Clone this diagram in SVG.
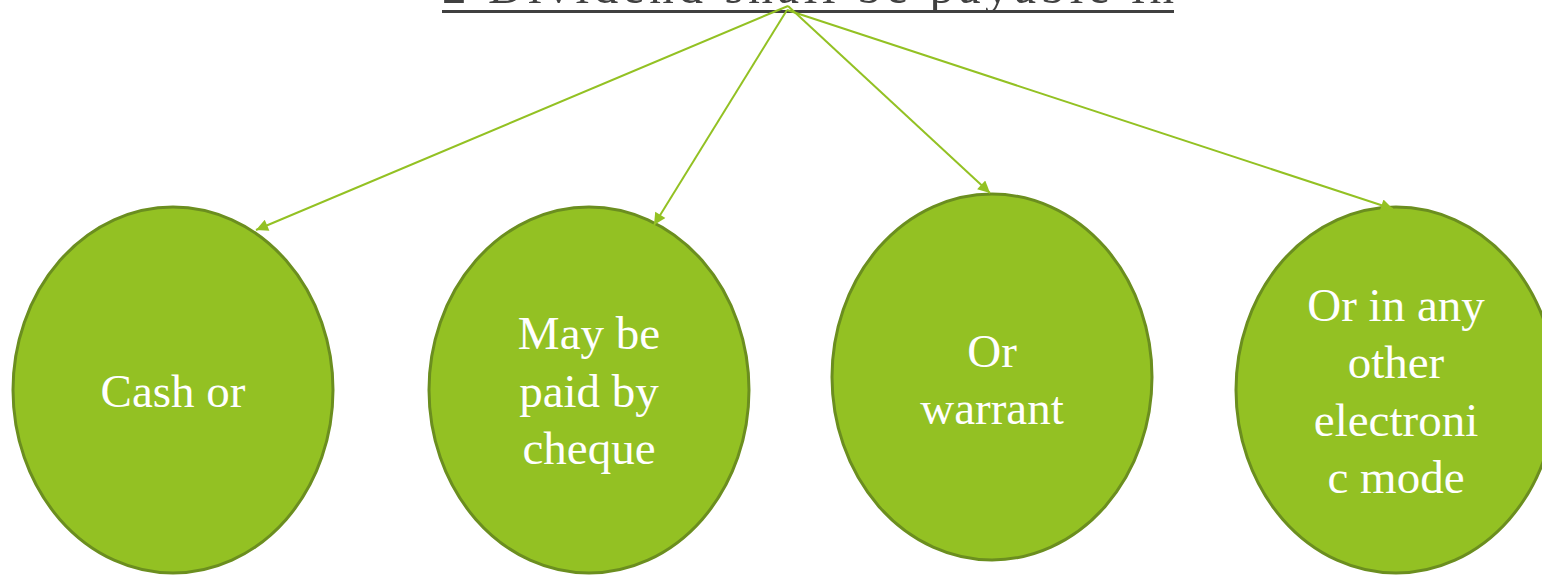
<svg xmlns="http://www.w3.org/2000/svg" width="1542" height="575" viewBox="0 0 1542 575">
<defs>
<style>
.node ellipse{fill:#93C123;stroke:#6B8E1F;stroke-width:3}
.node text{font-family:"Liberation Serif","Times New Roman",serif;font-size:47px;fill:#FFFFFF;text-anchor:middle}
.title{font-family:"Liberation Serif","Times New Roman",serif;font-size:49px;fill:#404040}
#connectors line{stroke:#93C123;stroke-width:2;marker-end:url(#arrow)}
</style>
<marker id="arrow" viewBox="0 0 10 10" refX="10" refY="5" markerWidth="8" markerHeight="6" orient="auto" markerUnits="strokeWidth">
<path d="M0,0 L10,5 L0,10 z" fill="#93C123"/>
</marker>
</defs>
<rect width="1542" height="575" fill="#FFFFFF"/>
<g id="title">
<text class="title" x="442" y="3" textLength="732" lengthAdjust="spacing">2 Dividend shall be payable in</text>
<rect x="442" y="10" width="732" height="3" fill="#404040"/>
</g>
<g id="node1" class="node">
<ellipse cx="173" cy="390" rx="160" ry="183"/>
<text x="173" y="407">Cash or</text>
</g>
<g id="node2" class="node">
<ellipse cx="589" cy="390" rx="160" ry="183"/>
<text x="589" y="349">May be</text>
<text x="589" y="407">paid by</text>
<text x="589" y="464">cheque</text>
</g>
<g id="node3" class="node">
<ellipse cx="992" cy="377" rx="160" ry="183"/>
<text x="992" y="367">Or</text>
<text x="992" y="424">warrant</text>
</g>
<g id="node4" class="node">
<ellipse cx="1396" cy="390" rx="160" ry="183"/>
<text x="1396" y="321">Or in any</text>
<text x="1396" y="378">other</text>
<text x="1396" y="436">electroni</text>
<text x="1396" y="493">c mode</text>
</g>
<g id="connectors">
<line x1="788" y1="6" x2="256" y2="230"/>
<line x1="787" y1="10" x2="654" y2="225"/>
<line x1="788" y1="6" x2="990" y2="193"/>
<line x1="787" y1="10" x2="1393" y2="209"/>
</g>
</svg>
